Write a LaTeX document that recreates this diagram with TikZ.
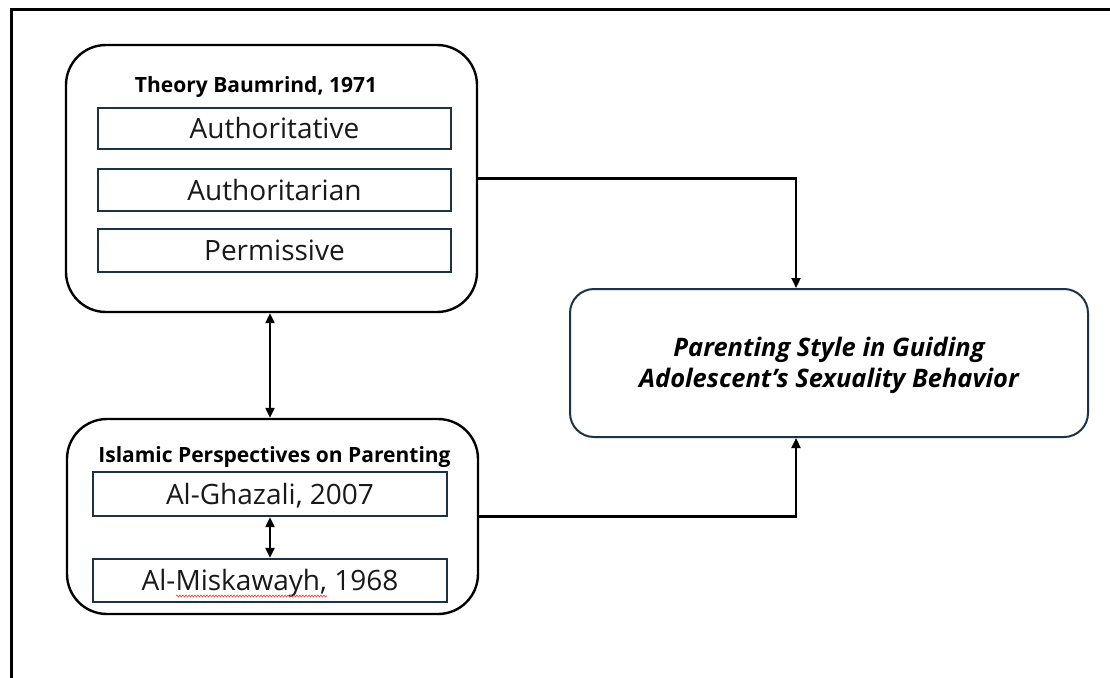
\documentclass[tikz,border=0pt]{standalone}
\usepackage{fontspec}
\setmainfont{Open Sans}
\usetikzlibrary{arrows.meta,decorations.pathmorphing}
\definecolor{navy}{HTML}{1B3346}
\tikzset{
  outerbox/.style={draw=black,line width=2.4pt,rounded corners=40pt,inner sep=0pt},
  itembox/.style={draw=navy,line width=2.4pt,inner sep=0pt,font=\fontsize{28}{30}\selectfont,text=black!90,text height=25pt,text depth=5pt},
  resultbox/.style={draw=navy,line width=2pt,rounded corners=24pt,inner sep=0pt},
  resulttext/.style={inner sep=0pt,align=center,font=\fontsize{25.5}{31}\selectfont\bfseries\itshape},
  titletext/.style={inner sep=0pt,font=\fontsize{21}{24}\selectfont\bfseries},
  conn/.style={draw=black,line width=2.2pt,-{Triangle[length=10pt,width=9pt]}},
  biconn/.style={draw=black,line width=2.2pt,{Triangle[length=10pt,width=9pt]}-{Triangle[length=10pt,width=9pt]}},
  spellmark/.style={draw=red!80,line width=0.6pt,decorate,decoration={snake,amplitude=1pt,segment length=3pt}}
}
\begin{document}
\begin{tikzpicture}[x=1pt,y=-1pt]
\useasboundingbox (0,0) rectangle (1110,677);
\fill[white] (0,0) rectangle (1110,677);
\draw[line width=3pt] (1112,9.5) -- (11.5,9.5) -- (11.5,679);
% top group
\node[outerbox,minimum width=411pt,minimum height=267pt] (top) at (271.5,178.5) {};
\node[titletext] (toptitle) at (256,87.5) {Theory Baumrind, 1971};
\node[itembox,minimum width=353pt,minimum height=41pt] (a1) at (274.5,128.5) {Authoritative};
\node[itembox,minimum width=353pt,minimum height=42pt] (a2) at (274.5,190) {Authoritarian};
\node[itembox,minimum width=353pt,minimum height=43pt] (a3) at (274.5,250.5) {Permissive};
% bottom group
\node[outerbox,minimum width=411pt,minimum height=195pt] (bot) at (272.5,516.5) {};
\node[titletext] (bottitle) at (274.5,457.5) {Islamic Perspectives on Parenting};
\node[itembox,minimum width=354pt,minimum height=44pt] (g) at (270,494) {Al-Ghazali, 2007};
\node[itembox,minimum width=354pt,minimum height=43pt] (m) at (270,580.5) {Al-Miskawayh, 1968};
\draw[spellmark] (176,596) -- (327,596);
% result
\node[resultbox,minimum width=518pt,minimum height=148pt] (res) at (829,363) {};
\node[resulttext] (restext) at (829,365) {Parenting Style in Guiding\\Adolescent’s Sexuality Behavior};
% connectors
\draw[biconn] (top.south -| g.north) -- (bot.north -| g.north);
\draw[biconn] (g.south) -- (m.north);
\draw[conn] (top.east) -| ([xshift=-33pt]res.north);
\draw[conn] (bot.east) -| ([xshift=-33pt]res.south);
\end{tikzpicture}
\end{document}
